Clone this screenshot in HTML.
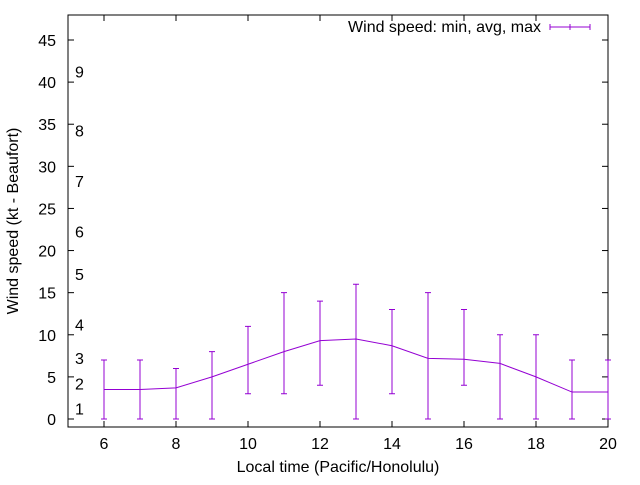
<!DOCTYPE html>
<html><head><meta charset="utf-8"><style>
body{margin:0;background:#fff}
svg{font-family:"Liberation Sans",sans-serif;font-size:16px}
</style></head><body>
<svg id="chart" width="640" height="480">
<g id="g"></g>
</svg>
<script>
const hours=[6,7,8,9,10,11,12,13,14,15,16,17,18,19,20];
const avgSpeed=[3.5,3.5,3.7,5,6.5,8,9.3,9.5,8.7,7.2,7.1,6.6,5,3.2,3.2];
const minSpeed=[0,0,0,0,3,3,4,0,3,0,4,0,0,0,0];
const maxSpeed=[7,7,6,8,11,15,14,16,13,15,13,10,10,7,7];
const xTicks=[6,8,10,12,14,16,18,20];
const yTicks=[0,5,10,15,20,25,30,35,40,45];
const beaufort=[1,2,3,4,5,6,7,8,9];
const beaufortKt=[1,4,7,11,17,22,28,34,41];

const L=68,R=608,T=15,B=427;
const X=v=>L+(v-5)*(R-L)/15;
const Y=v=>419-v*379/45;
const g=document.getElementById('g');
const NS='http://www.w3.org/2000/svg';
function el(t,a,txt){const e=document.createElementNS(NS,t);for(const k in a)e.setAttribute(k,a[k]);if(txt!==undefined)e.textContent=txt;g.appendChild(e);return e;}
const purple='#9400d3';

let e=el('rect',{x:L,y:T,width:R-L,height:B-T,fill:'none',stroke:'#000','stroke-width':1});


xTicks.forEach(v=>{
  let x=X(v);
  let t=el('line',{x1:x,y1:B,x2:x,y2:B-6,stroke:'#000'});
  
  
  el('line',{x1:x,y1:T,x2:x,y2:T+6,stroke:'#000'});
  let l=el('text',{x:x,y:B+22,'text-anchor':'middle'},v);
  
  
});
yTicks.forEach(v=>{
  let y=Y(v);
  let t=el('line',{x1:L,y1:y,x2:L+6,y2:y,stroke:'#000'});
  
  
  el('line',{x1:R,y1:y,x2:R-6,y2:y,stroke:'#000'});
  let l=el('text',{x:L-12,y:y+6,'text-anchor':'end'},v);
  
  
});
beaufort.forEach((b,i)=>{
  let l=el('text',{x:75,y:Y(beaufortKt[i])+4},b);
  
  
});
let pts=hours.map((h,i)=>X(h)+','+Y(avgSpeed[i])).join(' ');
let line=el('polyline',{points:pts,fill:'none',stroke:purple,'stroke-width':1});


hours.forEach((h,i)=>{
  let x=X(h);
  let b=el('path',{d:`M${x},${Y(minSpeed[i])}V${Y(maxSpeed[i])}M${x-3},${Y(minSpeed[i])}h6M${x-3},${Y(maxSpeed[i])}h6`,stroke:purple,fill:'none'});
  
  
});
let xl=el('text',{x:338,y:472,'text-anchor':'middle'},'Local time (Pacific/Honolulu)');


let yl=el('text',{x:18,y:221,'text-anchor':'middle',transform:'rotate(-90 18 221)'},'Wind speed (kt - Beaufort)');


let lg=el('text',{x:541,y:32,'text-anchor':'end'},'Wind speed: min, avg, max');


let ls=el('path',{d:'M550,27H590M550,24v6M590,24v6M570,24v6',stroke:purple,fill:'none'});


</script>
</body></html>
